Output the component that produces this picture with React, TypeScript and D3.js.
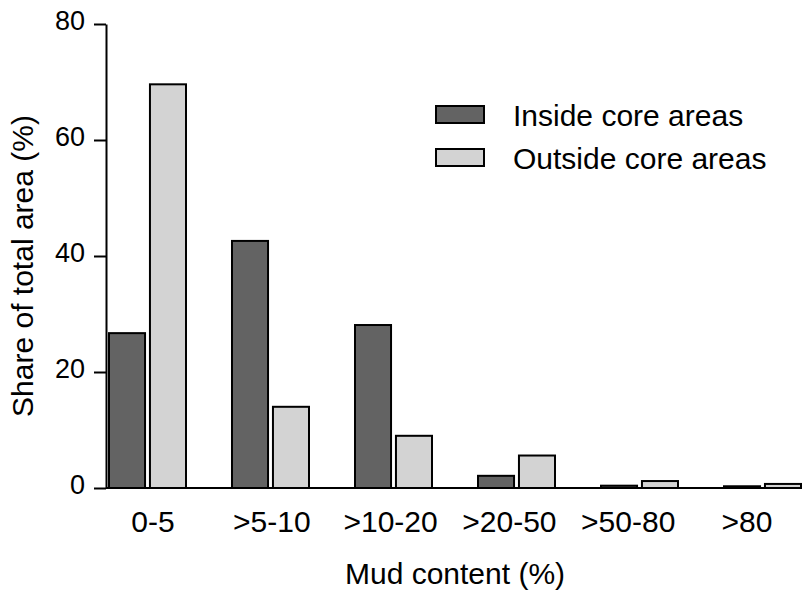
import { useEffect, useRef } from 'react';
import * as d3 from 'd3';

// Mud content classes and share of total area (%)
const categories = ['0-5', '>5-10', '>10-20', '>20-50', '>50-80', '>80'];
const seriesNames = ['Inside core areas', 'Outside core areas'];
const insideValues = [26.7, 42.6, 28.1, 2.1, 0.4, 0.3];
const outsideValues = [69.6, 14.0, 9.0, 5.6, 1.2, 0.7];
const yTicks = [0, 20, 40, 60, 80];

const seriesColors = ['#636363', '#d3d3d3'];
const FONT = "'Liberation Sans', Arial, Helvetica, sans-serif";

export default function App() {
    const svgRef = useRef<SVGSVGElement | null>(null);
    const width = 802;
    const height = 599;

    useEffect(() => {
        if (!svgRef.current) return;
        const svg = d3.select(svgRef.current);
        svg.selectAll('*').remove();

        const rows = categories.map((c, i) => ({
            category: c,
            values: [insideValues[i], outsideValues[i]]
        }));

        // Scales
        const yScale = d3.scaleLinear().domain([0, 80]).range([488, 24]);

        const x0 = d3.scaleBand()
            .domain(categories)
            .range([109, 801])
            .paddingInner(0.374)
            .paddingOuter(0)
            .align(0);

        const x1 = d3.scaleBand()
            .domain(seriesNames)
            .range([0, x0.bandwidth()])
            .paddingInner(0.12);

        // tick labels sit on their own, slightly narrower spacing
        const xLabel = d3.scalePoint()
            .domain(categories)
            .range([153, 747]);

        const axisX = 106;

        // Bars
        const groups = svg.append('g')
            .selectAll('g')
            .data(rows)
            .join('g')
            .attr('transform', d => `translate(${x0(d.category)},0)`);

        groups.selectAll('rect')
            .data(d => d.values.map((v, i) => ({ key: seriesNames[i], value: v, i })))
            .join('rect')
            .attr('x', d => x1(d.key)!)
            .attr('y', d => yScale(d.value))
            .attr('width', x1.bandwidth())
            .attr('height', d => yScale(0) - yScale(d.value))
            .attr('fill', d => seriesColors[d.i])
            .attr('stroke', '#000')
            .attr('stroke-width', 2);

        // X axis line
        svg.append('line')
            .attr('x1', axisX)
            .attr('x2', width)
            .attr('y1', yScale(0))
            .attr('y2', yScale(0))
            .attr('stroke', '#000')
            .attr('stroke-width', 2);

        // Y axis
        const yAxis = d3.axisLeft(yScale)
            .tickValues(yTicks)
            .tickSize(12)
            .tickPadding(9)
            .tickSizeOuter(0)
            .tickFormat(d => String(d));

        const yg = svg.append('g')
            .attr('transform', `translate(${axisX},0)`)
            .call(yAxis);

        yg.select('.domain').attr('stroke', '#000').attr('stroke-width', 2);
        yg.selectAll('.tick line').attr('stroke', '#000').attr('stroke-width', 2);
        yg.selectAll('.tick text')
            .attr('fill', '#000')
            .attr('font-family', FONT)
            .attr('font-size', 27)
            .attr('dy', '0.22em');

        // X tick labels
        svg.append('g')
            .selectAll('text')
            .data(categories)
            .join('text')
            .attr('x', d => xLabel(d)!)
            .attr('y', 532)
            .attr('text-anchor', 'middle')
            .attr('font-family', FONT)
            .attr('font-size', 30)
            .attr('fill', '#000')
            .text(d => d);

        // Axis titles
        svg.append('text')
            .attr('x', 455)
            .attr('y', 584)
            .attr('text-anchor', 'middle')
            .attr('font-family', FONT)
            .attr('font-size', 30)
            .attr('fill', '#000')
            .text('Mud content (%)');

        svg.append('text')
            .attr('transform', `translate(33,266) rotate(-90)`)
            .attr('text-anchor', 'middle')
            .attr('font-family', FONT)
            .attr('font-size', 30)
            .attr('fill', '#000')
            .text('Share of total area (%)');

        // Legend
        const legend = svg.append('g')
            .selectAll('g')
            .data(seriesNames)
            .join('g')
            .attr('transform', (d, i) => `translate(436,${106 + i * 43})`);

        legend.append('rect')
            .attr('width', 48)
            .attr('height', 17)
            .attr('fill', (d, i) => seriesColors[i])
            .attr('stroke', '#000')
            .attr('stroke-width', 2);

        legend.append('text')
            .attr('x', 77)
            .attr('y', 20)
            .attr('font-family', FONT)
            .attr('font-size', 30)
            .attr('fill', '#000')
            .text(d => d);
    }, []);

    return (
        <div style={{ position: 'absolute', left: 0, top: 0 }}>
            <svg ref={svgRef} width={width} height={height} style={{ display: 'block', background: '#fff' }} />
        </div>
    );
}
